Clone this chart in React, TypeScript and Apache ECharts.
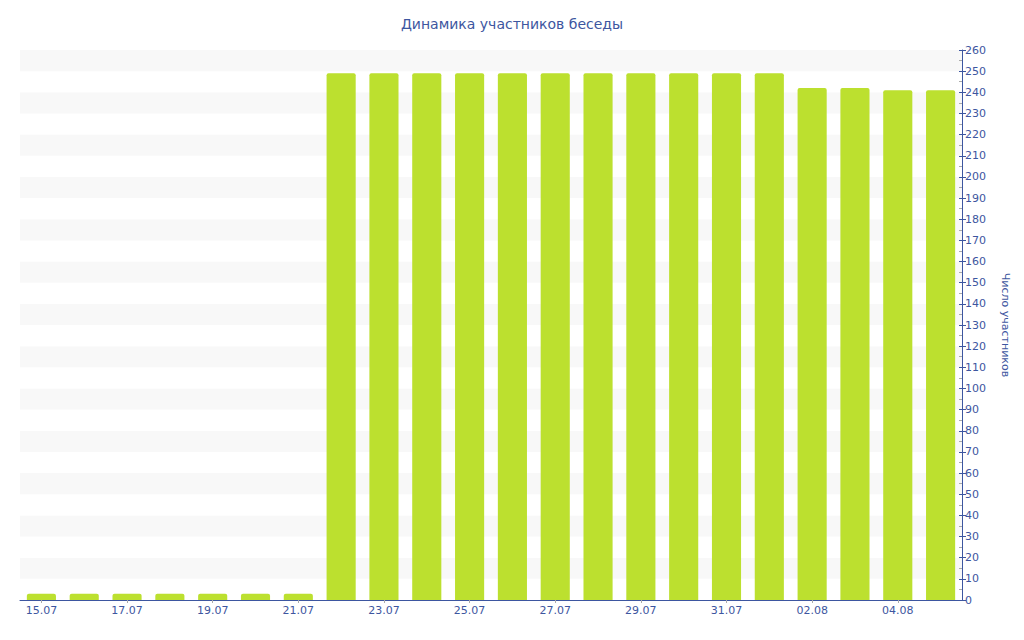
import React, { useEffect, useRef } from "react";
import * as echarts from "echarts";

const categories = [
  "15.07", "16.07", "17.07", "18.07", "19.07", "20.07", "21.07", "22.07",
  "23.07", "24.07", "25.07", "26.07", "27.07", "28.07", "29.07", "30.07",
  "31.07", "01.08", "02.08", "03.08", "04.08", "05.08",
];
const members = [3, 3, 3, 3, 3, 3, 3, 249, 249, 249, 249, 249, 249, 249, 249, 249, 249, 249, 242, 242, 241, 241];
const titleText = "Динамика участников беседы";
const yAxisName = "Число участников";

const BLUE = "#3d56a0";
const FONT = "DejaVu Sans";

export default function App() {
  const ref = useRef<HTMLDivElement>(null);
  useEffect(() => {
    const chart = echarts.init(ref.current!, null, { renderer: "svg" });
    chart.setOption({
      animation: false,
      textStyle: { fontFamily: FONT },
      title: {
        text: titleText,
        left: "center",
        top: 12,
        textStyle: { color: BLUE, fontSize: 14, fontWeight: "normal", fontFamily: FONT },
      },
      grid: { left: 20, right: 62, top: 50, bottom: 40 },
      xAxis: {
        type: "category",
        data: categories,
        axisLine: { lineStyle: { color: BLUE, width: 1 } },
        axisTick: { show: true, alignWithLabel: true, interval: 1, length: 3, lineStyle: { color: "#aaaaaa" } },
        axisLabel: { interval: 1, color: BLUE, fontSize: 11, fontFamily: FONT, margin: 5 },
        splitLine: { show: false },
      },
      yAxis: [
        {
          type: "value",
          position: "right",
          min: 0,
          max: 260,
          interval: 10,
          name: yAxisName,
          nameLocation: "middle",
          nameRotate: -90,
          nameGap: 38,
          nameTextStyle: { color: BLUE, fontSize: 11, fontFamily: FONT },
          axisLine: { show: true, lineStyle: { color: BLUE } },
          axisTick: { show: true, length: 4, lineStyle: { color: BLUE } },
          axisLabel: { color: BLUE, fontSize: 11, fontFamily: FONT, margin: 3 },
          splitLine: { show: false },
          splitArea: { show: true, areaStyle: { color: ["#ffffff", "#f8f8f8"] } },
        },
        {
          type: "value",
          position: "right",
          min: 0,
          max: 260,
          interval: 10,
          axisLine: { show: false },
          axisTick: { show: true, inside: true, length: 3, lineStyle: { color: BLUE } },
          minorTick: { show: true, splitNumber: 2, length: 3, lineStyle: { color: "#aaaaaa" } },
          axisLabel: { show: false },
          splitLine: { show: false },
        },
      ],
      series: [
        {
          type: "bar",
          data: members,
          barWidth: "68%",
          itemStyle: { color: "#bce02f", borderRadius: [2, 2, 0, 0] },
        },
      ],
    });
    return () => chart.dispose();
  }, []);
  return <div ref={ref} style={{ width: 1024, height: 640, position: "absolute", left: 0, top: 0 }} />;
}
